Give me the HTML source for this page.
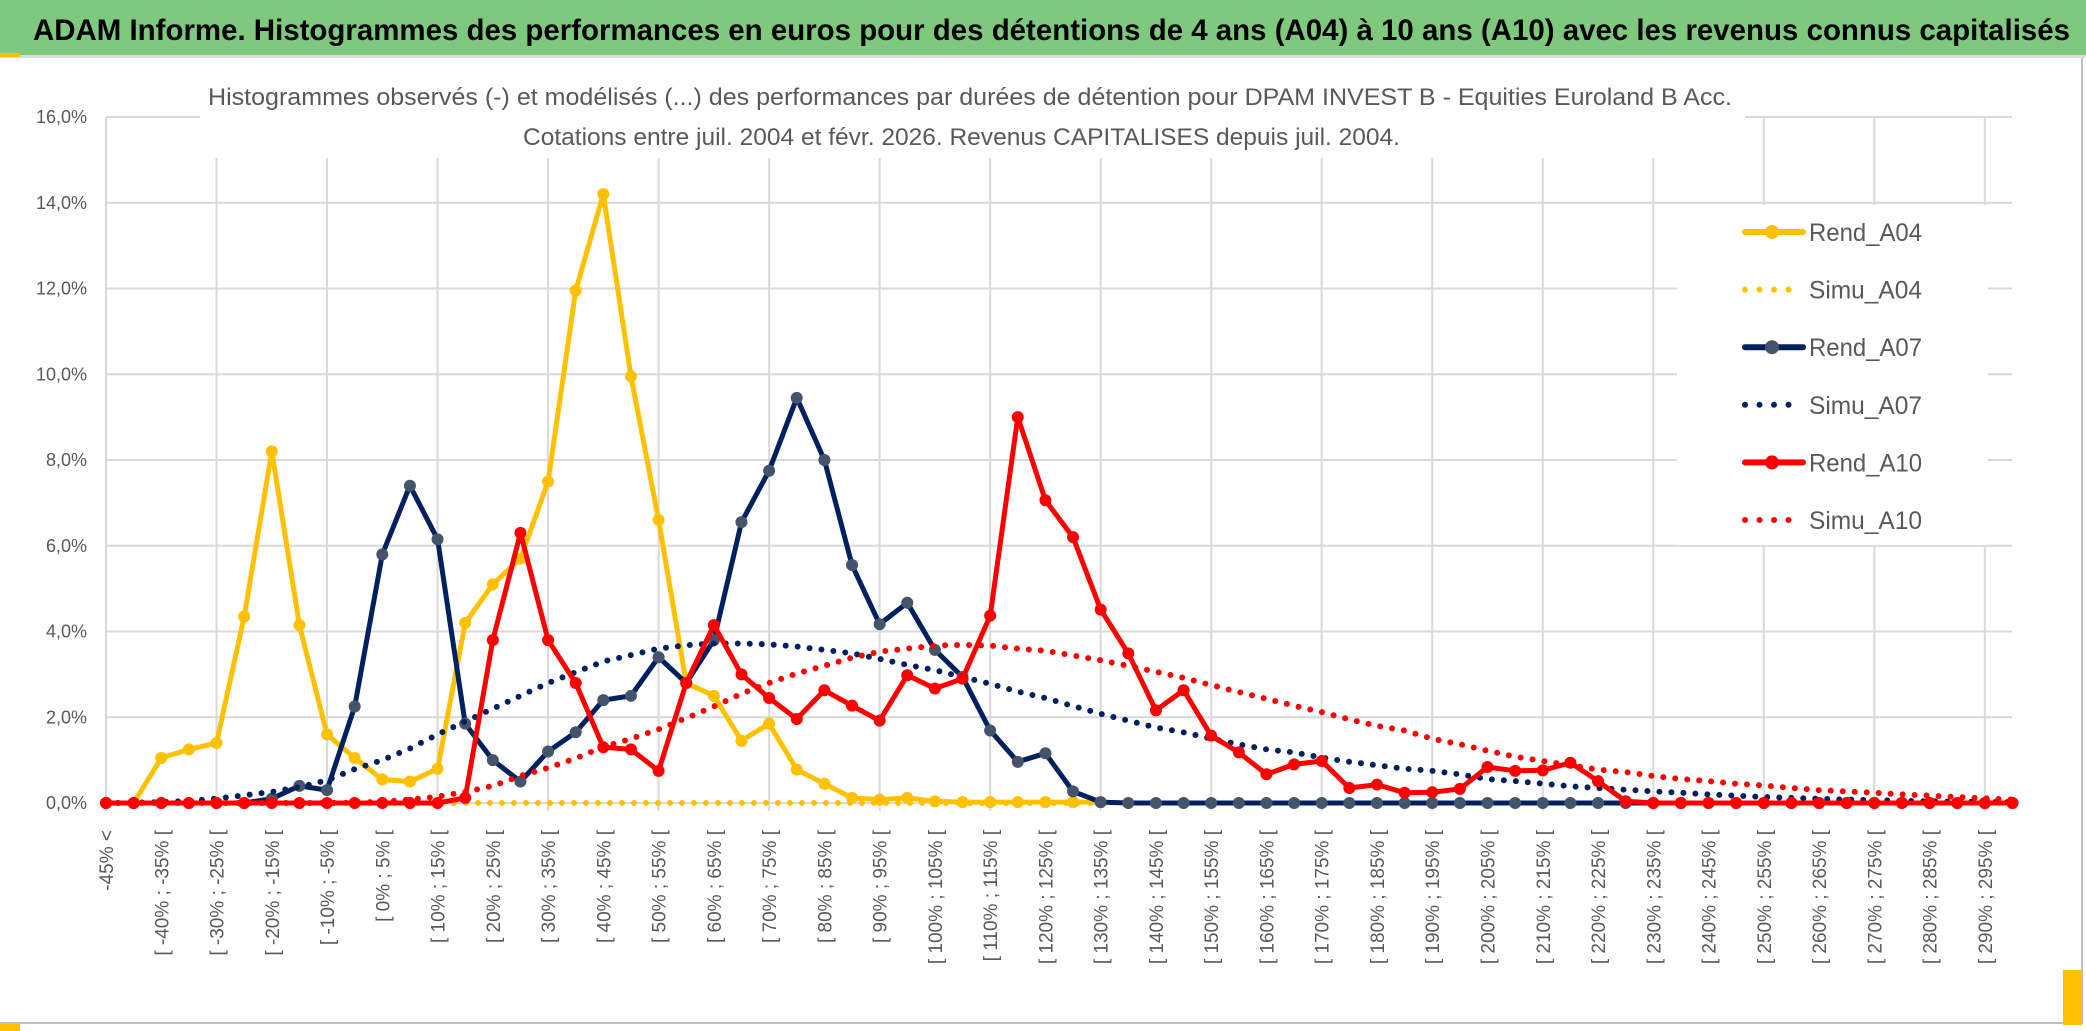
<!DOCTYPE html>
<html><head><meta charset="utf-8">
<style>
html,body{margin:0;padding:0;background:#fff;}
svg{display:block;font-family:"Liberation Sans",sans-serif;}
</style></head>
<body>
<svg id="chart" width="2086" height="1031" viewBox="0 0 2086 1031" xmlns="http://www.w3.org/2000/svg">
  <rect x="0" y="0" width="2086" height="1031" fill="#fff"/>
  <rect x="0" y="0" width="2086" height="55" fill="#7fc97f"/>
  <rect x="0" y="55" width="2086" height="3" fill="#dcdcdc"/>
  <rect x="0" y="53" width="20" height="4" fill="#ffc000"/>
  <text x="33" y="40" font-size="30" font-weight="bold" fill="#000" textLength="2037" lengthAdjust="spacingAndGlyphs">ADAM Informe. Histogrammes des performances en euros pour des détentions de 4 ans (A04) à 10 ans (A10) avec les revenus connus capitalisés</text>
  <rect x="2081" y="58" width="2" height="966" fill="#bfbfbf"/>
  <rect x="0" y="1022" width="2083" height="2" fill="#bfbfbf"/>
  <rect x="2063" y="970" width="19" height="55" fill="#ffc000"/>
  <rect x="0" y="1024" width="20" height="7" fill="#ffc000"/>
  <g id="grid"></g>
  <rect x="200" y="84" width="1545" height="74" fill="#fff"/>
  <text x="208" y="105" font-size="24" fill="#595959" textLength="1524" lengthAdjust="spacingAndGlyphs">Histogrammes observés (-) et modélisés (...) des performances par durées de détention pour DPAM INVEST B - Equities Euroland B Acc.</text>
  <text x="523" y="145" font-size="24" fill="#595959" textLength="877" lengthAdjust="spacingAndGlyphs">Cotations entre juil. 2004 et févr. 2026. Revenus CAPITALISES depuis juil. 2004.</text>
  <g id="yaxis"></g>
  <g id="xaxis"></g>
  <g id="series"></g>
  <g id="legend"></g>
</svg>
<script>
const yTicks = [0, 2, 4, 6, 8, 10, 12, 14, 16];
const yTickLabels = ["0,0%","2,0%","4,0%","6,0%","8,0%","10,0%","12,0%","14,0%","16,0%"];
const categoryCount = 70;
const categories = (function(){
  const c = ["-45% <"];
  for (let l = -45; l < 300; l += 5) c.push("[ " + l + "% ; " + (l + 5) + "% [");
  return c.slice(0, 70);
})();
const rendA04 = [0,0,1.05,1.25,1.4,4.35,8.2,4.15,1.6,1.05,0.55,0.5,0.8,4.2,5.1,5.7,7.5,11.95,14.2,9.95,6.6,2.8,2.5,1.45,1.85,0.78,0.45,0.12,0.08,0.12,0.04,0.02,0.02,0.02,0.02,0.02,0.02];
const simuA04 = [0,0,0,0,0,0,0,0,0,0,0,0,0,0,0,0,0,0,0,0,0,0,0,0,0,0,0,0,0,0,0,0,0,0,0,0,0];
const rendA07 = [0,0,0,0,0,0,0.1,0.4,0.3,2.25,5.8,7.4,6.15,1.85,1.0,0.5,1.2,1.65,2.4,2.5,3.4,2.8,3.8,6.55,7.75,9.45,8.0,5.55,4.17,4.67,3.57,2.94,1.69,0.96,1.16,0.27,0.02,0,0,0,0,0,0,0,0,0,0,0,0,0,0,0,0,0,0,0,0,0,0,0,0,0,0,0,0,0,0,0,0,0];
const simuA07 = [0,0.01,0.02,0.05,0.1,0.18,0.26,0.37,0.53,0.79,1.0,1.27,1.6,1.9,2.2,2.5,2.8,3.05,3.3,3.45,3.6,3.68,3.72,3.72,3.7,3.65,3.57,3.49,3.36,3.22,3.1,2.94,2.78,2.6,2.45,2.26,2.08,1.92,1.76,1.65,1.5,1.37,1.25,1.18,1.06,0.96,0.88,0.8,0.75,0.67,0.56,0.51,0.45,0.39,0.35,0.31,0.27,0.24,0.2,0.17,0.14,0.12,0.1,0.08,0.07,0.05,0.04,0.03,0.02,0.02];
const rendA10 = [0,0,0,0,0,0,0,0,0,0,0,0,0,0.12,3.8,6.3,3.8,2.8,1.3,1.25,0.75,2.8,4.15,3.0,2.45,1.96,2.63,2.27,1.92,2.98,2.67,2.9,4.37,9.0,7.06,6.2,4.51,3.49,2.16,2.63,1.57,1.18,0.67,0.9,0.98,0.35,0.43,0.24,0.25,0.33,0.84,0.75,0.76,0.94,0.51,0.04,0,0,0,0,0,0,0,0,0,0,0,0,0,0];
const simuA10 = [0,0,0,0,0,0,0,0,0,0.01,0.03,0.08,0.15,0.26,0.4,0.63,0.82,1.04,1.31,1.5,1.72,1.98,2.25,2.55,2.8,3.02,3.2,3.39,3.53,3.6,3.67,3.69,3.67,3.6,3.55,3.44,3.33,3.2,3.06,2.92,2.75,2.59,2.43,2.27,2.12,1.95,1.8,1.69,1.5,1.37,1.22,1.08,0.98,0.88,0.78,0.72,0.63,0.56,0.51,0.45,0.41,0.35,0.3,0.27,0.24,0.2,0.17,0.14,0.11,0.08];

const NS = "http://www.w3.org/2000/svg";
const X0 = 106, DX = 27.63, Y0 = 803, YPER = 42.875;
function xPos(i){ return X0 + i * DX; }
function yPos(v){ return Y0 - v * YPER; }
function mk(tag, attrs, parent){
  const e = document.createElementNS(NS, tag);
  for (const k in attrs) e.setAttribute(k, attrs[k]);
  parent.appendChild(e);
  return e;
}
const grid = document.getElementById('grid');
yTicks.forEach(function(t){
  const l = mk('line', {x1: xPos(0), x2: 2012, y1: yPos(t), y2: yPos(t), stroke: '#d9d9d9', 'stroke-width': 2}, grid);
  
  
});
for (let i = 0; i < categoryCount; i += 4) {
  const l = mk('line', {x1: xPos(i), x2: xPos(i), y1: yPos(16), y2: Y0 + 8, stroke: '#d9d9d9', 'stroke-width': 2}, grid);
  
  
}
const yaxis = document.getElementById('yaxis');
yTicks.forEach(function(t, k){
  const tx = mk('text', {x: 87, y: yPos(t) + 6, 'font-size': 18, fill: '#595959', 'text-anchor': 'end'}, yaxis);
  tx.textContent = yTickLabels[k];
  
  
});
const xaxis = document.getElementById('xaxis');
for (let i = 0; i < categoryCount; i += 2) {
  const tx = mk('text', {x: 0, y: 0, 'font-size': 19, fill: '#595959', 'text-anchor': 'end',
    transform: 'translate(' + (xPos(i) + 7) + ',830) rotate(-90)'}, xaxis);
  tx.textContent = categories[i];
  
  
}
const series = document.getElementById('series');
function pts(arr){ return arr.map(function(v, i){ return xPos(i).toFixed(1) + ',' + yPos(v).toFixed(1); }).join(' '); }
function drawRend(arr, color, markerColor, name){
  const g = mk('g', {}, series);
  
  
  const pl = mk('polyline', {points: pts(arr), fill: 'none', stroke: color, 'stroke-width': 5, 'stroke-linejoin': 'round', 'stroke-linecap': 'round'}, g);
  
  
  arr.forEach(function(v, i){
    const c = mk('circle', {cx: xPos(i), cy: yPos(v), r: 6, fill: markerColor}, g);
    
    
  });
}
function drawSimu(arr, color, name){
  const pl = mk('polyline', {points: pts(arr), fill: 'none', stroke: color, 'stroke-width': 6, 'stroke-dasharray': '0 12', 'stroke-linecap': 'round'}, series);
  
  
}
drawRend(rendA04, '#ffc000', '#ffc000', 'rend-a04');
drawSimu(simuA04, '#ffc000', 'simu-a04');
drawRend(rendA07, '#002060', '#44546a', 'rend-a07');
drawSimu(simuA07, '#002060', 'simu-a07');
drawRend(rendA10, '#ff0000', '#ff0000', 'rend-a10');
drawSimu(simuA10, '#ff0000', 'simu-a10');

const legend = document.getElementById('legend');
mk('rect', {x: 1677, y: 205, width: 311, height: 340, fill: '#fff'}, legend);
const legendItems = [
  ['Rend_A04', '#ffc000', '#ffc000', false],
  ['Simu_A04', '#ffc000', null, true],
  ['Rend_A07', '#002060', '#44546a', false],
  ['Simu_A07', '#002060', null, true],
  ['Rend_A10', '#ff0000', '#ff0000', false],
  ['Simu_A10', '#ff0000', null, true]
];
legendItems.forEach(function(it, k){
  const y = 232 + k * 57.6;
  const g = mk('g', {}, legend);
  
  
  if (it[3]) {
    mk('line', {x1: 1745, x2: 1803, y1: y, y2: y, stroke: it[1], 'stroke-width': 6, 'stroke-dasharray': '0 14.5', 'stroke-linecap': 'round'}, g);
  } else {
    mk('line', {x1: 1745, x2: 1803, y1: y, y2: y, stroke: it[1], 'stroke-width': 6, 'stroke-linecap': 'round'}, g);
    mk('circle', {cx: 1772, cy: y, r: 7, fill: it[2]}, g);
  }
  const tx = mk('text', {x: 1809, y: y + 9, 'font-size': 25, fill: '#595959', textLength: 113, lengthAdjust: 'spacingAndGlyphs'}, g);
  tx.textContent = it[0];
  
  
});
</script>
</body></html>
